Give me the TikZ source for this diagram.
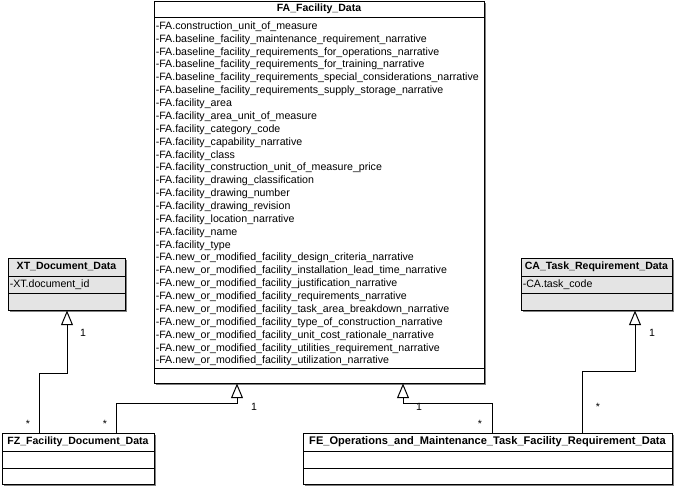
\documentclass[tikz,border=0pt]{standalone}
\usepackage{fontspec}
\setmainfont{Liberation Sans}
\usetikzlibrary{arrows.meta,fit,shadows}
\definecolor{boxgrey}{RGB}{228,228,228}
\begin{document}
\begin{tikzpicture}[x=0.75pt,y=-0.75pt,
  umlbox/.style={draw=black, line width=0.75pt, inner sep=0pt, fill=white,
    drop shadow={shadow xshift=1.5pt, shadow yshift=-1.5pt, fill=black!50, opacity=1}},
  greybox/.style={umlbox, fill=boxgrey},
  sepline/.style={draw=black, line width=0.75pt},
  title/.style={font=\fontsize{7.9}{9}\selectfont\bfseries, inner sep=0pt},
  attr/.style={font=\fontsize{7.97}{9}\selectfont, inner sep=0pt, anchor=base west},
  mult/.style={font=\fontsize{7.9}{9}\selectfont, inner sep=0pt},
  gen/.style={draw=black, line width=0.75pt, -{Triangle[open,length=11pt,width=9pt]}}
]
\useasboundingbox (0,0) rectangle (674,486);

% ---- FA_Facility_Data
\node[umlbox, fit={(154,1)(484,383)}] (fa) {};
\draw[sepline] (154,17) -- (484,17);
\draw[sepline] (154,368) -- (484,368);
\node[title] (fat) at (319,9) {FA\_Facility\_Data};
\foreach \t [count=\i from 0] in {
-FA.construction\_unit\_of\_measure,
-FA.baseline\_facility\_maintenance\_requirement\_narrative,
-FA.baseline\_facility\_requirements\_for\_operations\_narrative,
-FA.baseline\_facility\_requirements\_for\_training\_narrative,
-FA.baseline\_facility\_requirements\_special\_considerations\_narrative,
-FA.baseline\_facility\_requirements\_supply\_storage\_narrative,
-FA.facility\_area,
-FA.facility\_area\_unit\_of\_measure,
-FA.facility\_category\_code,
-FA.facility\_capability\_narrative,
-FA.facility\_class,
-FA.facility\_construction\_unit\_of\_measure\_price,
-FA.facility\_drawing\_classification,
-FA.facility\_drawing\_number,
-FA.facility\_drawing\_revision,
-FA.facility\_location\_narrative,
-FA.facility\_name,
-FA.facility\_type,
-FA.new\_or\_modified\_facility\_design\_criteria\_narrative,
-FA.new\_or\_modified\_facility\_installation\_lead\_time\_narrative,
-FA.new\_or\_modified\_facility\_justification\_narrative,
-FA.new\_or\_modified\_facility\_requirements\_narrative,
-FA.new\_or\_modified\_facility\_task\_area\_breakdown\_narrative,
-FA.new\_or\_modified\_facility\_type\_of\_construction\_narrative,
-FA.new\_or\_modified\_facility\_unit\_cost\_rationale\_narrative,
-FA.new\_or\_modified\_facility\_utilities\_requirement\_narrative,
-FA.new\_or\_modified\_facility\_utilization\_narrative}
  \node[attr] (fa\i) at (155.5,{29.3+12.87*\i}) {\t};

% ---- XT_Document_Data
\node[greybox, fit={(8,258)(125,310)}] (xt) {};
\draw[sepline] (8,276) -- (125,276);
\draw[sepline] (8,293) -- (125,293);
\node[title] (xtt) at (66.5,267) {XT\_Document\_Data};
\node[attr] (xt0) at (9.5,287.5) {-XT.document\_id};

% ---- CA_Task_Requirement_Data
\node[greybox, fit={(521,258)(672,310)}] (ca) {};
\draw[sepline] (521,276) -- (672,276);
\draw[sepline] (521,293) -- (672,293);
\node[title] (cat) at (596.5,267) {CA\_Task\_Requirement\_Data};
\node[attr] (ca0) at (522.5,287.5) {-CA.task\_code};

% ---- FZ_Facility_Document_Data
\node[umlbox, fit={(2,433)(154,484)}] (fz) {};
\draw[sepline] (2,451) -- (154,451);
\draw[sepline] (2,468) -- (154,468);
\node[title] (fzt) at (78,442) {FZ\_Facility\_Document\_Data};

% ---- FE_Operations_and_Maintenance_Task_Facility_Requirement_Data
\node[umlbox, fit={(303,433)(672,484)}] (fe) {};
\draw[sepline] (303,451) -- (672,451);
\draw[sepline] (303,468) -- (672,468);
\node[title, font=\fontsize{8.3}{9}\selectfont\bfseries] (fet) at (487.5,442) {FE\_Operations\_and\_Maintenance\_Task\_Facility\_Requirement\_Data};

% ---- bend points
\coordinate (b1a) at (39,373);  \coordinate (b1b) at (67,373);
\coordinate (b2a) at (116,403); \coordinate (b2b) at (237,403);
\coordinate (b3a) at (492,403); \coordinate (b3b) at (403,403);
\coordinate (b4a) at (582,371); \coordinate (b4b) at (635,371);

% ---- generalisations
\draw[gen] (b1a |- fz.north) -- (b1a) -- (b1b) -- (b1b |- xt.south);
\draw[gen] (b2a |- fz.north) -- (b2a) -- (b2b) -- (b2b |- fa.south);
\draw[gen] (b3a |- fe.north) -- (b3a) -- (b3b) -- (b3b |- fa.south);
\draw[gen] (b4a |- fe.north) -- (b4a) -- (b4b) -- (b4b |- ca.south);

% ---- multiplicities
\node[mult] (m1a) at (83,333) {1};
\node[mult] (m1b) at (28,424) {*};
\node[mult] (m2a) at (254,407) {1};
\node[mult] (m2b) at (105,424) {*};
\node[mult] (m3a) at (419,407) {1};
\node[mult] (m3b) at (480,424) {*};
\node[mult] (m4a) at (652,333) {1};
\node[mult] (m4b) at (598,407) {*};
\end{tikzpicture}
\end{document}
